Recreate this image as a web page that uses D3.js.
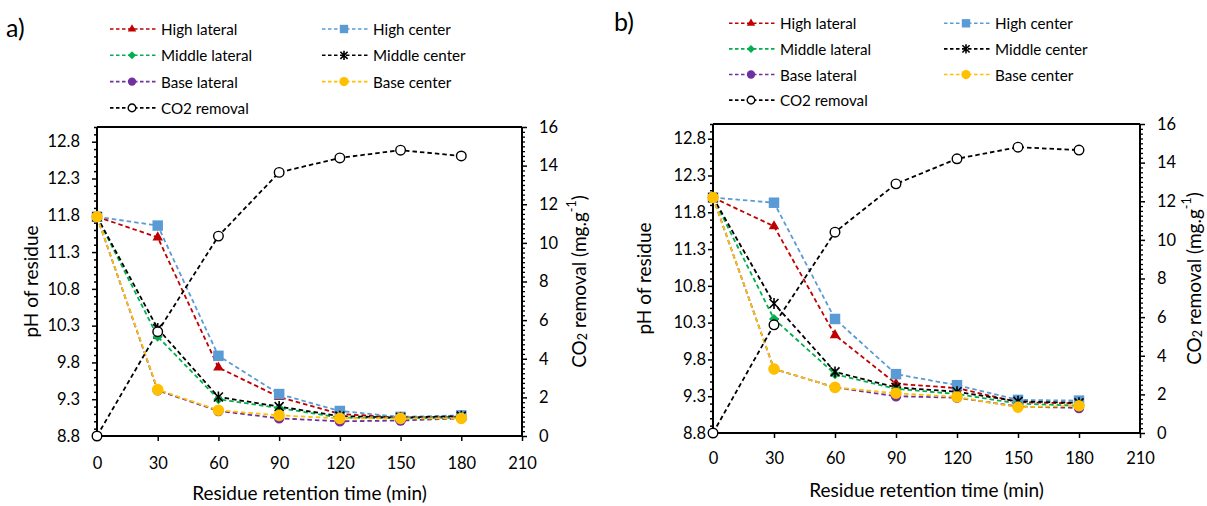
<!DOCTYPE html>
<html>
<head>
<meta charset="utf-8">
<script src="https://cdn.jsdelivr.net/npm/d3@7"></script>
<style>
  html, body { margin: 0; padding: 0; background: #fff; }
  svg { display: block; font-family: Lato, "Open Sans", sans-serif; }
</style>
</head>
<body>
<svg id="chart" width="1207" height="506"></svg>
<script>
// ---------- DATA ----------
const times = [0, 30, 60, 90, 120, 150, 180];
const xTicks = [0, 30, 60, 90, 120, 150, 180, 210];
const phTicks = [8.8, 9.3, 9.8, 10.3, 10.8, 11.3, 11.8, 12.3, 12.8];
const co2Ticks = [0, 2, 4, 6, 8, 10, 12, 14, 16];
const seriesNames = ["High lateral", "High center", "Middle lateral", "Middle center", "Base lateral", "Base center", "CO2 removal"];

const aHighLateral   = [11.78, 11.50, 9.73, 9.33, 9.10, 9.05, 9.06];
const aHighCenter    = [11.78, 11.66, 9.89, 9.37, 9.14, 9.06, 9.08];
const aMiddleLateral = [11.78, 10.15, 9.30, 9.18, 9.05, 9.04, 9.05];
const aMiddleCenter  = [11.78, 10.26, 9.33, 9.20, 9.07, 9.05, 9.07];
const aBaseLateral   = [11.78, 9.42, 9.14, 9.04, 9.00, 9.01, 9.04];
const aBaseCenter    = [11.78, 9.43, 9.15, 9.08, 9.04, 9.04, 9.04];
const aCO2           = [0, 5.4, 10.35, 13.65, 14.4, 14.8, 14.5];

const bHighLateral   = [12.00, 11.61, 10.13, 9.47, 9.41, 9.22, 9.20];
const bHighCenter    = [12.00, 11.93, 10.35, 9.60, 9.45, 9.25, 9.24];
const bMiddleLateral = [12.00, 10.35, 9.60, 9.40, 9.33, 9.20, 9.17];
const bMiddleCenter  = [12.00, 10.56, 9.63, 9.42, 9.36, 9.23, 9.21];
const bBaseLateral   = [12.00, 9.67, 9.42, 9.30, 9.28, 9.16, 9.14];
const bBaseCenter    = [12.00, 9.67, 9.42, 9.34, 9.29, 9.15, 9.17];
const bCO2           = [0, 5.6, 10.4, 12.9, 14.2, 14.8, 14.65];

// ---------- STYLE ----------
const styles = {
  "High lateral":   { color: "#C00000", marker: "triangle" },
  "High center":    { color: "#5B9BD5", marker: "square" },
  "Middle lateral": { color: "#00B050", marker: "diamond" },
  "Middle center":  { color: "#000000", marker: "star" },
  "Base lateral":   { color: "#7030A0", marker: "circle" },
  "Base center":    { color: "#FFC000", marker: "circleBig" },
  "CO2 removal":    { color: "#000000", marker: "open" }
};
const TICK_FS = 16.5, TITLE_FS = 19, LEGEND_FS = 15.2;

const svg = d3.select("#chart");

function markerPath(type, k) {
  k = k || 1;
  if (type === "triangle") return d3.symbol(d3.symbolTriangle, 48 * k * k)();
  if (type === "square") return d3.symbol(d3.symbolSquare, 110 * k * k)();
  if (type === "diamond") { const r = 5 * k; return `M0,${-r}L${r},0L0,${r}L${-r},0Z`; }
  if (type === "star") { const r = 4.5 * k; return `M${-r},${-r}L${r},${r}M${-r},${r}L${r},${-r}M0,${-r-1}L0,${r+1}`; }
  if (type === "circle") return d3.symbol(d3.symbolCircle, 85 * k * k)();
  if (type === "circleBig") return d3.symbol(d3.symbolCircle, 105 * k * k)();
  if (type === "open") return d3.symbol(d3.symbolCircle, 72 * k * k)();
}

function drawMarker(g, type, color, x, y, k) {
  const p = g.append("path").attr("d", markerPath(type, k)).attr("transform", `translate(${x},${y})`);
  if (type === "star") p.attr("fill", "none").attr("stroke", color).attr("stroke-width", 1.6);
  else if (type === "open") p.attr("fill", "#fff").attr("stroke", color).attr("stroke-width", 1.4);
  else p.attr("fill", color).attr("stroke", "none");
}

function drawPanel(cfg) {
  const { left, right, top, bottom, ph, co2, label } = cfg;
  const x = d3.scaleLinear().domain([0, 210]).range([left, right]);
  const yL = d3.scaleLinear().domain([8.8, 13.0]).range([bottom, top]);
  const yR = d3.scaleLinear().domain([0, 16]).range([bottom, top]);
  const g = svg.append("g");

  // frame top
  g.append("line").attr("x1", left).attr("x2", right).attr("y1", top).attr("y2", top)
    .attr("stroke", "#000").attr("stroke-width", 2);

  // left axis
  const minorL = d3.range(88, 131).map(v => v / 10).filter(v => !phTicks.some(t => Math.abs(t - v) < 1e-6));
  g.append("g").attr("transform", `translate(${left},0)`)
    .call(d3.axisLeft(yL).tickValues(minorL).tickSize(3).tickFormat(""))
    .call(s => s.select(".domain").remove())
    .selectAll("line").attr("stroke-width", 1.5);
  const gl = g.append("g").attr("transform", `translate(${left},0)`)
    .call(d3.axisLeft(yL).tickValues(phTicks).tickSize(5).tickPadding(cfg.lPad).tickFormat(d3.format(".1f")));
  gl.select(".domain").attr("stroke-width", 2).attr("d", `M-0,${bottom}V${top}`);
  gl.selectAll("line").attr("stroke-width", 1.5);
  gl.selectAll("text").attr("font-size", TICK_FS).attr("fill", "#000").attr("font-family", "Lato");

  // right axis
  const minorR = d3.range(0, 64.01).map(v => v / 4).filter(v => !co2Ticks.includes(v));
  g.append("g").attr("transform", `translate(${right},0)`)
    .call(d3.axisRight(yR).tickValues(minorR).tickSize(3).tickFormat(""))
    .call(s => s.select(".domain").remove())
    .selectAll("line").attr("stroke-width", 1.3);
  const gr = g.append("g").attr("transform", `translate(${right},0)`)
    .call(d3.axisRight(yR).tickValues(co2Ticks).tickSize(5).tickPadding(12));
  gr.select(".domain").attr("stroke-width", 2).attr("d", `M0,${bottom}V${top}`);
  gr.selectAll("line").attr("stroke-width", 1.5);
  gr.selectAll("text").attr("font-size", TICK_FS).attr("fill", "#000").attr("font-family", "Lato");

  // x axis
  const gx = g.append("g").attr("transform", `translate(0,${bottom})`)
    .call(d3.axisBottom(x).tickValues(xTicks).tickSize(5).tickPadding(cfg.xPad));
  gx.select(".domain").attr("stroke-width", 2).attr("d", `M${left},0H${right}`);
  gx.selectAll("line").attr("stroke-width", 1.5);
  gx.selectAll("text").attr("font-size", TICK_FS).attr("fill", "#000").attr("font-family", "Lato");

  // titles
  svg.append("text").attr("x", (left + right) / 2).attr("y", cfg.xTitleY)
    .attr("text-anchor", "middle").attr("font-size", TITLE_FS).attr("fill", "#000")
    .text("Residue retention time (min)");
  svg.append("text").attr("transform", `translate(${cfg.yTitleX},${(top + bottom) / 2}) rotate(-90)`)
    .attr("text-anchor", "middle").attr("dominant-baseline", "central").attr("font-size", TITLE_FS).attr("fill", "#000")
    .text("pH of residue");
  const rt = svg.append("text").attr("transform", `translate(${cfg.rTitleX},${(top + bottom) / 2}) rotate(-90)`)
    .attr("text-anchor", "middle").attr("dominant-baseline", "central").attr("font-size", TITLE_FS).attr("fill", "#000");
  rt.append("tspan").text("CO");
  rt.append("tspan").text("2").attr("font-size", 12.5).attr("dy", 4);
  rt.append("tspan").text(" removal (mg.g").attr("dy", -4);
  rt.append("tspan").text("-1").attr("font-size", 12.5).attr("dy", -7);
  rt.append("tspan").text(")").attr("dy", 7);

  // panel label
  svg.append("text").attr("x", cfg.labelX).attr("y", cfg.labelY).attr("font-size", 25).attr("fill", "#000").text(label);

  // series
  const series = [
    ["High lateral", ph[0], yL], ["High center", ph[1], yL], ["Middle lateral", ph[2], yL],
    ["Middle center", ph[3], yL], ["Base lateral", ph[4], yL], ["Base center", ph[5], yL],
    ["CO2 removal", co2, yR]
  ];
  const line = (ys) => d3.line().x((d, i) => x(times[i])).y(d => ys(d));
  series.forEach(([name, vals, ys]) => {
    const st = styles[name];
    g.append("path").datum(vals).attr("d", line(ys)).attr("fill", "none")
      .attr("stroke", st.color).attr("stroke-width", 1.8).attr("stroke-dasharray", "4.5,3");
  });
  series.forEach(([name, vals, ys]) => {
    const st = styles[name];
    vals.forEach((v, i) => drawMarker(g, st.marker, st.color, x(times[i]), ys(v), 1));
  });

  // legend
  const lg = cfg.legend;
  const pos = [[0, 0], [1, 0], [0, 1], [1, 1], [0, 2], [1, 2], [0, 3]];
  seriesNames.forEach((name, i) => {
    const st = styles[name];
    const cx = lg.cols[pos[i][0]];
    const cy = lg.y0 + pos[i][1] * lg.dy;
    g.append("line").attr("x1", cx).attr("x2", cx + 46).attr("y1", cy).attr("y2", cy)
      .attr("stroke", st.color).attr("stroke-width", 1.6).attr("stroke-dasharray", "3.5,2.5");
    drawMarker(g, st.marker, st.color, cx + 22, cy, 0.8);
    g.append("text").attr("x", cx + 51).attr("y", cy).attr("dominant-baseline", "central")
      .attr("font-size", LEGEND_FS).attr("fill", "#000").text(name);
  });
}

drawPanel({
  left: 97, right: 522, top: 127, bottom: 436,
  ph: [aHighLateral, aHighCenter, aMiddleLateral, aMiddleCenter, aBaseLateral, aBaseCenter], co2: aCO2,
  label: "a)", labelX: 6, labelY: 37, lPad: 12, xPad: 16,
  xTitleY: 500, yTitleX: 30, rTitleX: 578,
  legend: { cols: [110, 322], y0: 29, dy: 26.3 }
});
drawPanel({
  left: 713, right: 1140, top: 124, bottom: 433,
  ph: [bHighLateral, bHighCenter, bMiddleLateral, bMiddleCenter, bBaseLateral, bBaseCenter], co2: bCO2,
  label: "b)", labelX: 614, labelY: 31, lPad: 2, xPad: 14,
  xTitleY: 497, yTitleX: 643, rTitleX: 1193,
  legend: { cols: [729, 944], y0: 23.3, dy: 25.6 }
});
</script>
</body>
</html>
